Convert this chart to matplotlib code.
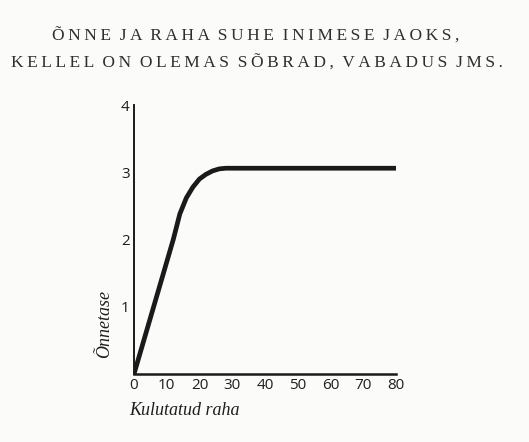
import numpy as np
import matplotlib.pyplot as plt

# spending vs happiness
money = [0, 3, 6, 9, 12, 14, 16, 18, 20, 22, 24, 26, 28, 30, 40, 60, 80]
happiness = [0.0, 0.5, 1.0, 1.5, 2.0, 2.38, 2.62, 2.78, 2.9, 2.97, 3.02, 3.05, 3.06, 3.06, 3.06, 3.06, 3.06]

xticks = [0, 10, 20, 30, 40, 50, 60, 70, 80]
yticks = [1, 2, 3, 4]

title1 = "ÕNNE JA RAHA SUHE INIMESE JAOKS,"
title2 = "KELLEL ON OLEMAS SÕBRAD, VABADUS JMS."


def spaced(s):
    # letter-spaced capitals like the book heading
    words = s.split(" ")
    return "  ".join("\u2009".join(w) for w in words)


fig = plt.figure(figsize=(5.29, 4.42), dpi=100)
fig.patch.set_facecolor("#fbfbfa")

fig.text(0.483, 0.918, spaced(title1), ha="center", va="center",
         family="Liberation Serif", fontsize=12.5, color="#2e2e2e")
fig.text(0.485, 0.857, spaced(title2), ha="center", va="center",
         family="Liberation Serif", fontsize=12.5, color="#2e2e2e")

ax = fig.add_axes([0.2533, 0.1538, 0.495, 0.6086])
ax.set_facecolor("none")
ax.plot(money, happiness, color="#1a1a1a", linewidth=3.4, solid_capstyle="round")

ax.set_xlim(0, 80)
ax.set_ylim(0, 4)
ax.set_xticks(xticks)
ax.set_yticks(yticks)
ax.tick_params(length=0, labelsize=11, colors="#1e1e1e", pad=3)
for lab in ax.get_xticklabels() + ax.get_yticklabels():
    lab.set_family("Open Sans")

for side in ["top", "right"]:
    ax.spines[side].set_visible(False)
ax.spines["left"].set_linewidth(1.4)
ax.spines["bottom"].set_linewidth(1.8)
ax.spines["left"].set_color("#1a1a1a")
ax.spines["bottom"].set_color("#1a1a1a")

ax.set_ylabel("Õnnetase", family="Liberation Serif", style="italic",
              fontsize=13, color="#1e1e1e")
ax.yaxis.set_label_coords(-0.08, 0.186)
fig.text(0.244, 0.072, "Kulutatud raha", family="Liberation Serif",
         style="italic", fontsize=13, color="#1e1e1e", ha="left", va="center")

fig.savefig("out.png", dpi=100, facecolor=fig.get_facecolor())
